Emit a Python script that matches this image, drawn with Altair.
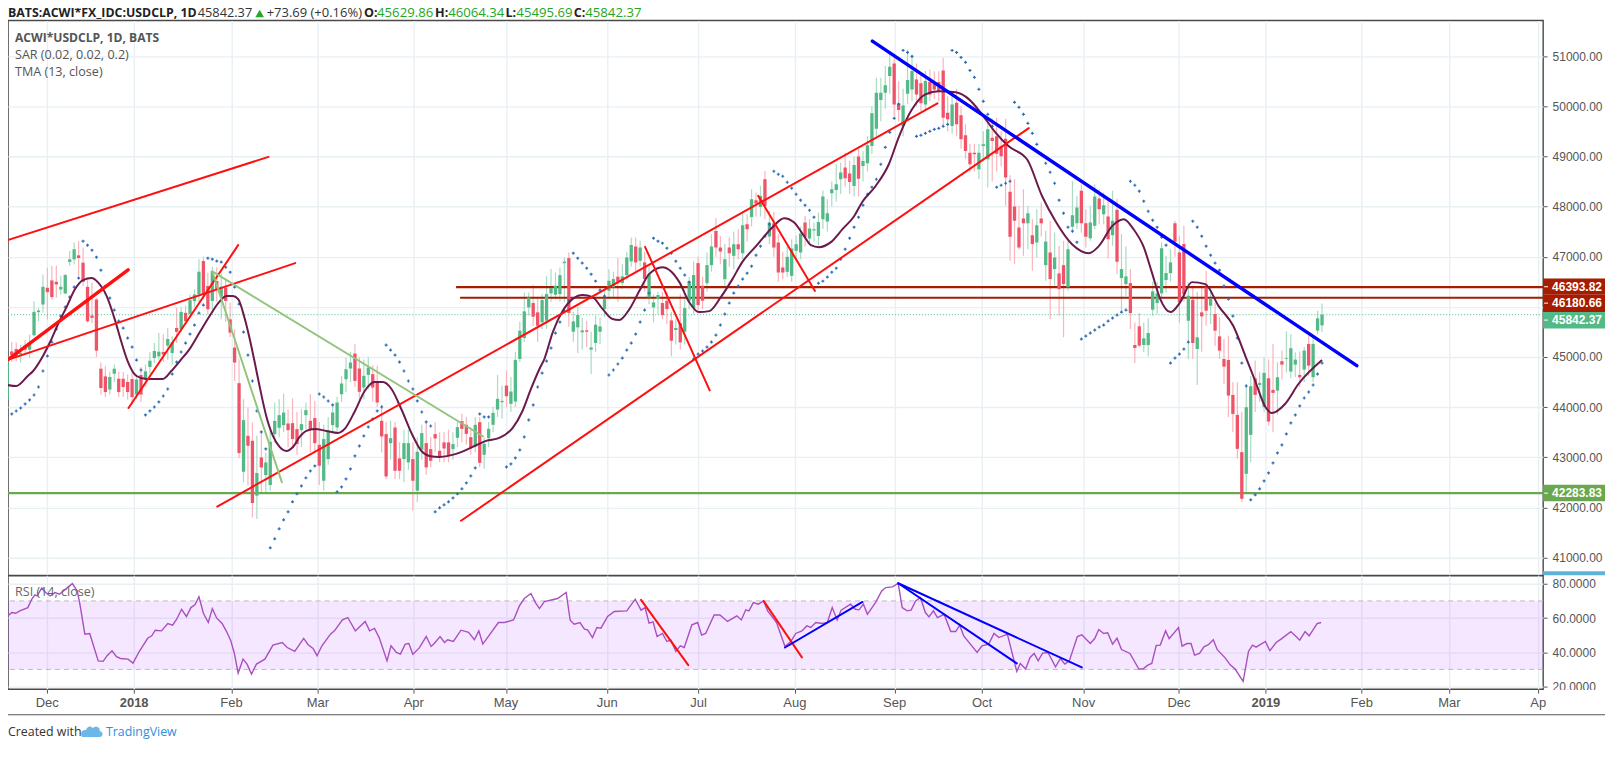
import altair as alt
import pandas as pd

opens = [44150,45110,45158,45050,45230,45145,45432,45893,46046,46379,
46526,46499,46346,46266,46893,46946,47026,46880,46399,45826,
46146,44765,44612,44350,44665,44565,44565,44500,44560,44250,
44640,44550,44800,44978,45012,45100,45225,45079,45579,45559,
45879,45859,46112,46246,46913,46415,46117,46515,46200,46380,
45750,45187,44477,42710,43427,43328,42233,42996,42644,42445,
43460,43587,43640,43673,43680,43560,43540,43839,43726,43780,
43248,42531,42963,43640,43593,44257,44556,44769,45067,44769,
44390,44642,44656,44490,43726,43461,43281,43593,42976,42963,
42896,42963,42332,43148,43281,43162,43461,43129,43295,43295,
43162,43387,43719,43646,43400,43214,43699,43048,43381,43646,
43951,44097,44429,44064,44111,44960,45377,45988,46075,45889,
45690,45723,46267,46241,46254,46870,46971,45503,45590,45490,
45530,45145,45278,45503,45955,46320,46387,46600,46473,46632,
46905,47203,46918,46885,46187,45988,46154,46075,46121,45729,
45537,45676,45504,46121,45975,46871,46420,46471,46830,47514,
47182,46551,47182,47016,47249,47069,47647,47793,48125,47992,
48543,47401,47667,47282,46784,46697,46618,47116,47083,47680,
47361,47521,47414,47746,47700,48264,48331,48543,48776,48656,
48410,48995,48809,48862,49207,49552,50124,50270,50602,50854,
50057,49606,50250,50336,50535,50456,50037,50482,50482,50482,
50714,49871,49606,50070,49818,49420,49074,49074,48742,49208,
48941,49373,49400,49200,49350,48292,48000,47582,47761,47668,
47429,47283,47761,46831,47084,46752,46665,46831,46387,47595,
47668,48312,47668,47369,47615,48159,47847,47801,47429,47934,
46573,46453,46473,45238,45610,45238,45238,45942,46075,46267,
46533,46672,47668,47084,47250,45722,46141,45158,45889,46387,
46021,45855,45410,44959,44939,44242,43845,43101,42669,43446,
44575,44442,44000,44575,44343,44329,44914,44960,44708,44847,
44641,44748,45259,44595,45525,45629.86]
highs = [45200,45300,45290,45245,45345,45445,46112,45979,46646,46780,
46813,46826,46613,46660,47113,47280,47313,47180,46546,46480,
46179,44890,44812,44712,44850,44700,44700,44650,44700,44650,
44800,44850,45100,45279,45479,45450,45579,45412,45979,46000,
46026,46246,46346,46946,47000,46680,46800,46790,46660,46560,
46083,45550,44955,44158,43990,43693,43428,43527,43095,43560,
44091,44158,44271,43950,44171,43900,43959,44091,44257,44124,
43700,43650,43800,44050,44200,44620,44988,45100,45253,45000,
44950,45000,44835,44822,44050,43700,43726,43700,43300,43550,
43550,43300,43400,43650,43700,43400,43700,43500,43500,43550,
43500,43700,43865,43800,43600,43800,43800,43400,43700,44000,
44642,44430,44728,44600,45100,45700,46287,46287,46440,46200,
46250,46619,46752,46685,46785,46984,47084,45900,46000,45780,
45720,45500,45822,45780,46400,46750,46700,46971,46850,47100,
47383,47383,47316,47100,46850,46250,46300,46300,46300,45900,
45750,46254,46200,46600,46900,47000,46600,47082,47448,47766,
47414,47250,47381,47500,47547,47900,47846,48344,48278,48410,
48709,47912,47893,47450,47100,47200,47348,47420,47600,47813,
47750,47680,47879,48320,48145,48500,48842,48875,49074,48908,
49000,49141,49100,49400,50000,50568,50568,50800,51100,51050,
50500,50350,51133,51033,50854,50650,50701,50734,50700,50700,
50967,50200,50300,50350,50000,49650,49250,49250,49250,49500,
49650,49750,49772,49500,49750,48624,48545,48013,48345,48013,
47748,47947,48080,47515,47715,47482,47217,47316,47349,48511,
48213,48445,47947,48013,48445,48345,48279,48146,48312,48159,
47449,47203,46752,45689,45875,45689,45769,46500,46500,47283,
47017,47150,47715,47416,47615,46486,46420,46300,46420,46719,
46420,46088,45789,45357,45424,44494,44494,43900,44462,44627,
44927,44693,44992,44950,45259,44894,45126,45511,45458,45093,
45106,45200,45425,45400,45920,46064.34]
lows = [44000,44900,44912,44890,45080,44980,45412,45712,45879,45746,
46146,46179,46246,46246,46813,46846,46613,46413,45679,45679,
45000,44250,44200,44250,44500,44200,44200,44150,44050,44150,
44100,44400,44650,44878,44945,44900,44945,44845,45279,45500,
45646,45800,46000,46100,46150,45846,45880,46100,45750,45700,
45400,44523,42980,42500,42430,41800,41767,42300,42300,42330,
43294,43400,43500,43200,43195,43050,43200,43560,43100,43095,
42445,42330,42850,43500,43500,44100,44300,44500,44400,44150,
44150,44350,44100,44000,43095,42564,42950,42564,42560,42500,
42750,41933,42100,42950,42650,42800,43100,42900,42900,42900,
42950,43200,43300,43250,43050,43100,42800,42770,43200,43500,
43800,43765,44000,43900,44000,44900,45300,45822,45623,45304,
45550,45560,46100,46150,46100,46100,45600,45304,45079,45150,
45200,44660,45100,45258,45800,46150,46200,46100,46350,46550,
46800,46700,46800,46300,46050,45690,45850,45750,45650,45012,
45250,45150,45250,45950,45850,45900,45950,46300,46700,47000,
46850,46400,46800,46750,46950,46950,47300,47600,47800,47800,
47750,47250,47000,46498,46550,46600,46500,46950,46950,47200,
47250,47300,47200,47550,47500,48000,48100,48250,48400,48250,
48200,48200,48500,48700,49050,49400,49700,49950,50250,49800,
49700,49400,50050,50100,50000,49900,49900,50100,50150,50100,
49600,49500,49450,49400,49150,48950,48700,48700,48550,48900,
48377,48500,48700,48800,48013,46918,46851,47150,47017,47150,
46719,46984,47400,46519,45756,46420,45822,45391,46320,47515,
47550,47482,47183,47316,47549,47648,47648,46964,47217,46652,
45922,46220,45557,44879,45191,45092,45012,45822,45855,46154,
46287,46500,47000,45689,46100,44959,44959,44441,45105,45623,
45656,45225,44959,44461,43800,43498,42967,42100,42303,42901,
43900,44100,43897,43632,43500,43850,44550,44690,44575,44600,
44400,44500,44620,44500,45450,45495.69]
closes = [45000,45040,44998,45080,45145,45290,45899,45926,46399,46292,
46193,46446,46399,46633,46946,47146,46973,46499,45712,45779,
45125,44380,44300,44600,44765,44300,44400,44300,44200,44550,
44250,44712,44925,45118,45105,45050,45358,45292,45500,45899,
45712,46132,46246,46700,46249,45950,46714,46350,46400,46117,
45485,44888,43082,43740,43228,42086,42684,42796,42896,43308,
43724,43839,43892,43540,43361,43262,43660,43939,43560,43281,
42830,43361,43527,43892,44091,44470,44755,44888,44523,44304,
44623,44789,44390,44091,43414,42617,43381,42730,42730,43281,
43281,42531,43109,43481,42797,42929,43374,42996,43175,43029,
43262,43600,43566,43466,43181,43646,42889,43267,43566,43885,
44164,44124,44217,44310,44941,45523,45909,46187,45802,45623,
46134,46254,46373,46420,46632,46900,45875,45709,45835,45530,
45503,45190,45643,45609,46154,46519,46553,46500,46606,46984,
47230,46885,47183,46553,46652,46088,46234,45835,45955,45324,
45577,45291,45975,46506,46632,46035,46121,46830,47202,47182,
47102,46949,47069,47249,47149,47627,47547,48145,48059,48211,
48012,47680,47182,46684,46684,46996,47162,47249,47461,47395,
47561,47548,47693,48198,47866,48344,48444,48676,48563,48490,
48829,48556,48908,49220,49858,50270,50270,50416,50788,50037,
49924,50017,50522,50701,50236,50057,50502,50236,50336,50303,
49772,49738,50037,49639,49340,49108,48842,49041,49074,49240,
49539,49307,49050,49000,48578,47396,47715,47183,47668,47867,
47250,47628,47668,47303,46553,46984,46353,46453,47150,47827,
47980,47668,47396,47681,48199,47947,48027,47349,47715,46898,
46752,46606,45875,45178,45225,45371,45477,46307,46267,47170,
46672,46885,47296,46088,46254,46221,45278,45391,45809,45922,
46167,45523,45125,44807,44229,43863,43167,42171,43997,44416,
44243,44482,44681,43712,44283,44595,44847,44975,45173,44947,
44595,45126,44827,45259,45770,45842.37]

sar_segments = [
 (0,[43823,43863,43922,43982,44062,44142,44241,44400,44719,45018,45297,45556,45815,45994,46193,46393,46572]),
 (17,[47309,47229,47130,46990,46731,46412,46173,45934,45715,45576,45376,45197,44938,44739]),
 (31,[43843,43923,44002,44102,44221,44361,44659,44898,45098,45277,45456,45636,45875,46034]),
 (45,[46970,46950,46911,46891,46791,46691,46393,46054,45496,45038,44520,43923,43504,43166]),
 (59,[41193,41372,41572,41751,41911,42110,42269,42428,42588,42727,42827]),
 (70,[44261,44201,44121,44042]),
 (74,[42309,42408,42568,42767,43026,43225,43424,43604,43763,43923,44002]),
 (85,[45237,45137,45038,44898,44719,44520,44361,44122,43902,43703,43623]),
 (96,[41910,41990,42050,42110,42189,42269,42369,42488,42627,42787]),
 (106,[43863,43803,43803]),
 (112,[42807,42866,42986,43146,43405,43743,44042,44400,44679,44918,45177,45476,45695,45914,46133]),
 (127,[47070,46970,46871,46771,46651,46512,46333,46213]),
 (135,[44640,44739,44859,44978,45137,45277,45456,45695,45934,46273]),
 (145,[47369,47309,47269,47169,47070,46910,46771,46632,46492]),
 (154,[44958,45058,45118,45197,45297,45436,45636,45855,46074,46273,46413,46552,46671,46811,47030,47209,47408,47648]),
 (172,[48703,48643,48604,48484,48365,48245,48126,48026,47926,47787]),
 (182,[46472,46512,46592,46691,46771,46950,47150,47369,47588,47787,48026,48245,48385,48544,48843,49181,49480,49759,50038]),
 (201,[51114,51074,50994]),
 (204,[49400,49420,49460,49500,49540,49560,49600,49640]),
 (212,[51114,51074,50974,50875,50715,50576,50337,50098,49839,49600]),
 (222,[48385,48424,48464,48504]),
 (226,[50078,49978,49839,49659,49460,49241,49042,48863,48683,48464,48126,47867,47588,47508,47289]),
 (241,[45357,45416,45476,45536,45596,45636,45715,45775,45835,45894,45934]),
 (252,[48504,48424,48305,48106,47906,47727,47588,47388,47229]),
 (261,[44878,44978,45058,45157,45297]),
 (266,[47707,47588,47408,47209,47030,46871,46731,46413,46153,45815,45376,44878,44420]),
 (279,[42150,42249,42369,42528,42687,42886,43086,43245,43464,43683,43843,44022,44181,44301,44440,44659,44878]),
]

tma_i = [0,2,4.6,5.8,8,9.6,11.4,13.4,15.2,17,18.9,20.3,22.3,24.1,25.6,27,29,31.2,34.9,36.8,38.7,40.9,43.2,45.4,47.7,49.2,50.6,51.8,53.3,54.4,55.5,56.6,58.1,59.6,61.1,62.6,64.1,65.6,67.1,69,71.6,74.2,75.7,77.9,80.2,82.4,84.3,86.2,88.4,91,92.9,94.7,97,100.7,104.4,107.4,110.4,113.4,115.6,117.5,119.4,120.5,122.4,124.6,126.8,129.1,131.3,133.6,135.8,137.3,139.6,141.8,144,147,148.9,150.8,153,155.2,157.5,160.1,162.7,164.9,168,171.7,174.3,176.5,178.8,180.3,182.1,184.8,187.4,190,191.8,194.8,197.8,200.1,203,206,209,212.8,215.8,218.7,221.7,224.7,228.8,232.2,235.2,238.9,242.7,244.9,247.9,250.5,252.7,255,256.8,258.7,261,263.2,265.8,268.8,271.8,275.1,277.8,280,282.3,283.7,286.7,289.7,295]
tma_v = [44440,44420,44620,44719,45018,45297,45656,46014,46353,46532,46572,46492,46213,45755,45297,44918,44620,44560,44560,44719,44918,45157,45496,45815,46114,46213,46213,46153,45755,45357,44898,44420,43823,43424,43205,43126,43205,43404,43524,43564,43524,43484,43564,43902,44321,44500,44500,44361,43962,43424,43126,43026,43006,43066,43205,43325,43385,43584,43922,44361,44759,44958,45496,45914,46153,46233,46193,45954,45755,45735,45954,46313,46651,46791,46711,46492,46094,45894,45914,46193,46552,46891,47209,47588,47767,47687,47408,47229,47189,47289,47548,47807,48086,48405,48843,49401,49938,50237,50297,50277,50137,49839,49480,49200,48942,48205,47707,47249,47070,47209,47608,47747,47548,47189,46691,46153,45894,46094,46492,46452,46014,45616,45018,44520,44002,43882,44062,44460,44938]

rsi_i = [0,1,1.9,2.8,4.6,5.5,6.2,6.7,7.7,8.6,9.6,10.7,11.7,13.7,14.6,15.7,16.3,17.4,18.5,20.4,21.5,22.4,23.5,24.5,25.4,27.1,28.2,29.7,31.5,32.4,33.2,34.6,36,37.1,38,39.1,40.2,41.2,42.1,43,44,45.1,46,47,48.2,49.2,50.1,50.9,51.8,52.9,53.8,54.8,55.9,57.8,59.6,61.7,62.8,64.5,66.5,67.5,68.6,69.5,70.6,72.5,73.4,75.2,76.4,78.1,80.3,81.3,82.4,83.5,85.2,86.1,87.3,88.2,89.3,90.1,91,92.4,94,95.1,95.8,97.1,98.1,98.8,100.1,101.8,103.5,104.8,105.8,106.7,110.2,
 111.5,113.6,114.9,116,117.5,118.5,119.4,120.5,123.5,125.4,126.3,127.2,128.5,129.5,130.2,131.3,132.3,133.2,134.7,136.2,139,140.9,142.2,143.1,144,144.9,145.8,147,148,148.9,150,151,151.9,153.6,154.9,155.8,156.7,158.6,159.9,161.6,163.7,164.7,165.7,166.4,167.4,168.5,169.7,170.6,172.6,174.5,175.8,176.9,178.3,179.4,180.3,181.4,182.9,184,185.1,186.2,187.1,189.2,190.3,191.1,192.1,193,194.8,196.2,197.1,198.6,199.9,200.8,201.9,202.8,203.8,204.9,206,206.8,207.8,208.7,210.2,211.7,212.8,213.7,214.6,217.6,218.7,220.2,221.4,
 222.5,224.4,226.5,227.3,228.5,229.5,230.4,231.3,232.3,233.5,235.2,236.3,237.3,238.3,240.1,241.1,243,244,244.9,246,246.9,248,249,250,251.9,253.9,254.8,255.9,256.8,257.8,258.7,259.9,260.7,262.8,263.6,264.7,265.6,266.4,267.5,268.5,269.5,270.6,271.5,273.3,274.4,275.5,277.3,278.5,279.4,280.2,282.3,283.3,284.7,285.8,288,289,290,291.2,292.1,293.9,294.8]
rsi_v = [60.9,63.2,62.8,64.2,66.1,71,73.5,72.9,77.4,74.9,72.9,74.9,73.9,78.2,80.1,75.8,68,50.6,51,35,34.7,38,40.9,37.4,36.4,36,33.7,40.9,48.2,49.6,52.9,52.5,56.8,55.8,59.3,65.1,60.9,66.1,67.7,72.5,62.8,57.4,65.5,59.9,56.8,52.1,47.1,39.9,27.9,36,33.1,27.3,33.1,36,44.2,45.7,42.8,40.5,48.1,44.4,42.2,38,43.8,50.6,52.5,58.9,60.3,52.5,58,52.5,53.9,48.2,35,43.8,39.9,38.9,44.8,45.1,38.9,42.4,49.2,43.4,45.1,49.2,45.7,47.3,46.3,52.9,51.6,47.3,52.5,44.8,57.4,
 57.4,58.9,67.1,71.4,74.3,69,65.5,69.6,71.4,74.9,58.7,56.4,57.4,53.5,53.1,48.6,54.5,54.1,60.9,63.8,64.2,71,64.6,66.1,57,57.8,49.2,51,46.3,47.1,40.5,43.8,42.8,56,57.4,50,51,61.8,61.8,58,61.3,58.9,64.8,64.2,69,68.1,70,64.2,57.4,43.4,46.3,51,52.5,55.4,54.5,57.4,56.8,57.4,66.1,58.9,64.6,68.1,65.1,64.8,68.1,62.2,69,75.8,77.8,78.2,80.3,66.1,64.2,64.6,70,71.9,63.2,60.7,64.2,60.3,62.2,52.1,52.1,55.8,49.6,39.9,43.8,44.8,51,
 48.6,50.6,28.8,33.5,30.2,37,39.3,35,39.5,39.9,31.5,36.4,33.1,35,49.2,50.2,45.1,48,53.3,51,51.4,44.8,48.2,41.6,39.3,30.2,30.2,32.5,33.5,44,44.2,52.5,48,54.5,43.6,45.1,45.1,38.3,39.3,43.2,44.4,47.3,41.5,36.6,32.7,30.2,23,40.5,44.2,43,46.3,40.9,45.7,47.7,52.1,49.6,47.1,52.1,49.6,56.8,57.4]

tick_idx = [8.96,28.46,50.3,69.7,91.2,111.9,134.6,155.1,176.7,199.1,218.7,241.5,262.9,282.4,303.9,323.6,343.5]
tick_txt = ["Dec","2018","Feb","Mar","Apr","May","Jun","Jul","Aug","Sep","Oct","Nov","Dec","2019","Feb","Mar","Ap"]

# trend lines: start bar, start value, end bar, end value
red_x1 = [0,0,27.2,47.1,101.8,143.1,168.5]
red_y1 = [47329,44938,43982,42016,41732,47195,48212]
red_x2 = [58.6,64.6,51.8,208.7,229.2,157.6,181.2]
red_y2 = [48990,46871,47229,50058,49564,44333,46318]
thick_x1, thick_y1, thick_x2, thick_y2 = [0],[44938],[27.1],[46737]
olive_x1, olive_y1 = [46,46],[46705,46705]
olive_x2, olive_y2 = [106.7,61.6],[43418,42502]
blue_x1, blue_y1, blue_x2, blue_y2 = [194.1],[51299],[302.8],[44825]

rsi_red_x1, rsi_red_y1 = [142.2,169.7],[70.6,70]
rsi_red_x2, rsi_red_y2 = [152.8,178.3],[32.5,37]
rsi_blue_x1, rsi_blue_y1 = [174.5,199.9,199.9],[42.8,80.3,80.3]
rsi_blue_x2, rsi_blue_y2 = [191.9,241.1,226.5],[69.4,31.2,33.5]

price_ticks = [41000,42000,43000,44000,45000,46000,47000,48000,49000,50000,51000]
rsi_ticks = [20,40,60,80]
tag_text = ["46393.82","46180.66","45842.37","42283.83"]
tag_price = [46393.82,46180.66,45842.37,42283.83]
tag_mid = [46400,46073,45735,42283]
tag_top = [46565,46240,45895,42450]
tag_bot = [46240,45895,45565,42120]
tag_col = ["#a61c00","#a61c00","#53b987","#6aa84f"]

W, H1, H2 = 1537, 555.5, 113.5
x_scale = alt.Scale(domain=[0.157, 344.6], nice=False, zero=False)
y_scale = alt.Scale(domain=[40646, 51711], nice=False, zero=False)
r_scale = alt.Scale(domain=[18.5, 84.7], nice=False, zero=False)
GRID = "#e9f0f4"
TXT = "#555555"
FONT = "Liberation Sans"

x_top = alt.Axis(values=tick_idx, labels=False, ticks=False, domain=False, grid=True, gridColor=GRID, gridWidth=1.4, title=None)
x_bot = alt.Axis(values=tick_idx, labels=False, ticks=True, tickSize=4, tickColor=TXT, domain=False, grid=True, gridColor=GRID, gridWidth=1.4, title=None)
y_top = alt.Axis(values=price_ticks, orient="right", title=None, grid=True, gridColor=GRID, gridWidth=1.4,
                 labelExpr="datum.value == 46000 ? '' : format(datum.value, '.2f')",
                 tickSize=4, tickColor=TXT, domain=False, labelColor=TXT, labelFont=FONT, labelFontSize=12, labelPadding=5)
y_bot = alt.Axis(values=rsi_ticks, orient="right", format=".4f", title=None, grid=True, gridColor=GRID, gridWidth=1.4,
                 tickSize=4, tickColor=TXT, domain=False, labelColor=TXT, labelFont=FONT, labelFontSize=12, labelPadding=5)

def X(f, a): return alt.X(f, type="quantitative", scale=x_scale, axis=a)
def YT(f): return alt.Y(f, type="quantitative", scale=y_scale, axis=y_top)
def YB(f): return alt.Y(f, type="quantitative", scale=r_scale, axis=y_bot)

def text(t, x, y, size=13, color=TXT, weight="normal", font="Open Sans", align="left"):
    return alt.Chart(alt.Data(values=[{}])).mark_text(
        text=t, fontSize=size, color=color, fontWeight=weight, font=font, align=align, baseline="middle"
    ).encode(x=alt.value(x), y=alt.value(y))

def segs(x1, y1, x2, y2, color, width, Y, ax):
    d = pd.DataFrame({"a": x1, "b": y1, "c": x2, "d": y2})
    return alt.Chart(d).mark_rule(color=color, strokeWidth=width, strokeCap="round", clip=True).encode(
        x=X("a", ax), x2="c", y=Y("b"), y2="d")

df = pd.DataFrame({"i": range(len(opens)), "o": opens, "h": highs, "l": lows, "c": closes})
up = df[df.c >= df.o]
down = df[df.c < df.o]
sar_i, sar_v = [], []
for start, vals in sar_segments:
    sar_i += list(range(start, start + len(vals)))
    sar_v += vals
sar = pd.DataFrame({"i": sar_i, "v": sar_v})
tma = pd.DataFrame({"i": tma_i, "v": tma_v})
rsi = pd.DataFrame({"i": rsi_i, "v": rsi_v})
tags = pd.DataFrame({"t": tag_text, "p": tag_price, "m": tag_mid, "a": tag_top, "b": tag_bot, "k": tag_col})

def wick(d, col):
    return alt.Chart(d).mark_rule(strokeWidth=1.2, clip=True, color=col).encode(x=X("i", x_top), y=YT("h"), y2="l")
def body(d, col):
    return alt.Chart(d).mark_rule(strokeWidth=3.3, clip=True, color=col).encode(x=X("i", x_top), y=YT("o"), y2="c")

sar_l = alt.Chart(sar).mark_point(shape="cross", filled=True, size=9, color="#2f6db3", opacity=1, clip=True).encode(
    x=X("i", x_top), y=YT("v"))
tma_l = alt.Chart(tma).mark_line(color="#6b1a4b", strokeWidth=2, interpolate="monotone", clip=True).encode(
    x=X("i", x_top), y=YT("v"))

hdots = alt.Chart(pd.DataFrame({"p": [45842.37]})).mark_rule(color="#53b987", strokeWidth=1, strokeDash=[1, 2]).encode(y=YT("p"))
hgreen = alt.Chart(pd.DataFrame({"p": [42283.83]})).mark_rule(color="#6aa84f", strokeWidth=2.4).encode(y=YT("p"))
hred = alt.Chart(pd.DataFrame({"a": [100.7, 101.6], "b": [344.6, 344.6], "p": [46393.82, 46180.66]})).mark_rule(
    color="#a61c00", strokeWidth=2.2).encode(x=X("a", x_top), x2="b", y=YT("p"))

tag_rect = alt.Chart(tags).mark_rect().encode(
    x=alt.value(W), x2=alt.value(1599), y=YT("a"), y2="b",
    color=alt.Color("k:N", scale=None))
tag_txt = alt.Chart(tags).mark_text(align="left", baseline="middle", color="white", fontSize=12, fontWeight="bold", font=FONT).encode(
    x=alt.value(W + 9), y=YT("m"), text="t:N")
tag_tick = alt.Chart(tags).mark_rule(color="white", strokeWidth=1).encode(
    x=alt.value(W + 1), x2=alt.value(W + 5), y=YT("m"))
strip = alt.Chart(pd.DataFrame({"a": [40725], "b": [40646]})).mark_rect(color="#5db4d8").encode(
    x=alt.value(W), x2=alt.value(1599), y=YT("a"), y2="b")

G = "#22a822"
HY = -7
head = [
    text("BATS:ACWI*FX_IDC:USDCLP, 1D", 0, HY, 12.35, "#222222", "bold"),
    text("45842.37", 190, HY, 12.8, "#333333"),
    text("+73.69 (+0.16%)", 259, HY, 13, "#333333"),
    text("O:", 356.5, HY, 12.6, "#222222", "bold"),
    text("45629.86", 369.5, HY, 13.2, G),
    text("H:", 427.6, HY, 12.6, "#222222", "bold"),
    text("46064.34", 440.7, HY, 13.2, G),
    text("L:", 498, HY, 12.6, "#222222", "bold"),
    text("45495.69", 509, HY, 13.2, G),
    text("C:", 566.5, HY, 12.6, "#222222", "bold"),
    text("45842.37", 578, HY, 13.2, G),
    text("ACWI*USDCLP, 1D, BATS", 7, 17.5, 12.1, TXT, "bold"),
    text("SAR (0.02, 0.02, 0.2)", 7, 34.7, 12.6, TXT),
    text("TMA (13, close)", 7, 51.7, 12.6, TXT),
]
tri = alt.Chart(alt.Data(values=[{}])).mark_point(shape="triangle-up", filled=True, size=75, color=G, opacity=1).encode(
    x=alt.value(252), y=alt.value(HY))

top = alt.layer(
    wick(up, "#a9dcc3"), wick(down, "#f9b4bc"), hdots, hgreen, hred, body(up, "#53b987"), body(down, "#ef5368"), sar_l, tma_l,
    segs(red_x1, red_y1, red_x2, red_y2, "#ff1010", 2, YT, x_top),
    segs(thick_x1, thick_y1, thick_x2, thick_y2, "#ff1010", 3.4, YT, x_top),
    segs(olive_x1, olive_y1, olive_x2, olive_y2, "#93c47d", 2, YT, x_top),
    segs(blue_x1, blue_y1, blue_x2, blue_y2, "#0000ff", 3.4, YT, x_top),
    strip, tag_rect, tag_tick, tag_txt, tri, *head,
).properties(width=W, height=H1)

band = alt.Chart(pd.DataFrame({"a": [70], "b": [30]})).mark_rect(color="#9915ff", opacity=0.1).encode(y=YB("a"), y2="b")
dash = alt.Chart(pd.DataFrame({"p": [70, 30]})).mark_rule(color="#c4b6c8", strokeWidth=1, strokeDash=[5, 4]).encode(y=YB("p"))
rsi_l = alt.Chart(rsi).mark_line(color="#aa4fc0", strokeWidth=1.4).encode(x=X("i", x_bot), y=YB("v"))
ticks = pd.DataFrame({"i": tick_idx, "t": tick_txt})
norm = alt.Chart(ticks[~ticks.t.isin(["2018", "2019"])]).mark_text(fontSize=13, color=TXT, font=FONT, baseline="middle").encode(
    x=X("i", x_bot), y=alt.value(H2 + 14), text="t:N")
bold = alt.Chart(ticks[ticks.t.isin(["2018", "2019"])]).mark_text(fontSize=13, color=TXT, font=FONT, fontWeight="bold", baseline="middle").encode(
    x=X("i", x_bot), y=alt.value(H2 + 14), text="t:N")
mask = alt.Chart(alt.Data(values=[{}])).mark_rect(color="white").encode(
    x=alt.value(W + 1), x2=alt.value(1599), y=alt.value(H2 + 1), y2=alt.value(H2 + 9))
foot = alt.Chart(alt.Data(values=[{}])).mark_rule(color=TXT, strokeWidth=1.2).encode(
    x=alt.value(0), x2=alt.value(1599), y=alt.value(139.2))
cloud = alt.Chart(alt.Data(values=[{}])).mark_point(
    shape="M-1,0.5 C-1.3,0 -0.9,-0.3 -0.6,-0.2 C-0.5,-0.6 -0.1,-0.7 0.1,-0.4 C0.4,-0.7 0.9,-0.5 0.8,-0.1 C1.2,0 1.2,0.5 0.8,0.5 Z",
    filled=True, size=380, color="#6db7e8", opacity=1).encode(x=alt.value(84), y=alt.value(156.5))

bot = alt.layer(
    band, dash, rsi_l,
    segs(rsi_red_x1, rsi_red_y1, rsi_red_x2, rsi_red_y2, "#ff1010", 2, YB, x_bot),
    segs(rsi_blue_x1, rsi_blue_y1, rsi_blue_x2, rsi_blue_y2, "#0000ff", 2, YB, x_bot),
    norm, bold, mask, foot, cloud,
    text("RSI (14, close)", 7, 16.5, 12.6, "#666666"),
    text("Created with", 0, 156.5, 12.4, "#333333"),
    text("TradingView", 98, 156.5, 12.4, "#2f8fd8"),
).properties(width=W, height=H2)

chart = alt.vconcat(top, bot, spacing=0, bounds="flush").properties(
    padding={"left": -5, "top": -3, "right": 0, "bottom": 0}, background="white").configure_view(
    stroke="#4a4a4a", strokeWidth=1.4)
chart.save("out.html", embed_options={"renderer": "svg", "actions": False})
